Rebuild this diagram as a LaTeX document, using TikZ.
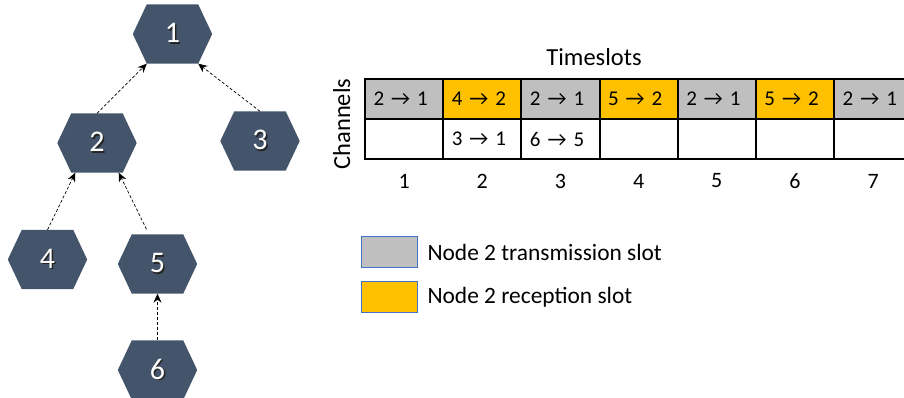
\documentclass[tikz,border=0pt]{standalone}
\usepackage{fontspec}
\setmainfont{Carlito}
\usetikzlibrary{arrows.meta,backgrounds}
\definecolor{hexfill}{HTML}{44546A}
\definecolor{txgray}{HTML}{BFBFBF}
\definecolor{rxorange}{HTML}{FFC000}
\definecolor{legedge}{HTML}{4472C4}
\newcommand{\hexlabel}[1]{\makebox[0pt][l]{\hspace{1.5pt}\raisebox{-1.5pt}{\color{black!85}#1}}{\color{white}#1}}
\tikzset{
  hexnode/.style={rectangle, minimum width=51pt, minimum height=59pt, inner sep=0pt, font=\fontsize{30}{30}\selectfont},
  arr/.style={densely dashed, line width=0.7pt, -{Stealth[length=9pt,width=8pt,inset=3pt]}},
  cell/.style={draw, line width=2pt, minimum width=78.17pt, minimum height=40pt, text width=61pt, inner xsep=8.5pt, align=left, font=\fontsize{21}{24}\selectfont},
  numlbl/.style={font=\fontsize{22}{24}\selectfont},
  title/.style={font=\fontsize{24.5}{28}\selectfont},
  legbox/.style={draw=legedge, line width=1pt, minimum width=56pt, minimum height=31pt, inner sep=0pt},
  legtext/.style={anchor=west, font=\fontsize{23.4}{26}\selectfont}
}
\begin{document}
\begin{tikzpicture}[x=1pt,y=-1pt]
\useasboundingbox (0,0) rectangle (904,398);
% tree nodes
\node[hexnode] (n1) at (172.5,34) {\hexlabel{1}};
\node[hexnode] (n2) at (97,143) {\hexlabel{2}};
\node[hexnode] (n3) at (260,141) {\hexlabel{3}};
\node[hexnode] (n4) at (47.5,259.5) {\hexlabel{4}};
\node[hexnode] (n5) at (157.5,264) {\hexlabel{5}};
\node[hexnode] (n6) at (157.5,370) {\hexlabel{6}};
\begin{scope}[on background layer]
\foreach \n in {n1,n2,n3,n4,n5,n6}
  \fill[hexfill] (\n.north west) -- (\n.north east) -- ([xshift=14pt]\n.east) -- (\n.south east) -- (\n.south west) -- ([xshift=-14pt]\n.west) -- cycle;
\end{scope}
% connectors
\draw[arr] (n2.north) -- (n1.south west);
\draw[arr] (n3.north) -- (n1.south east);
\draw[arr] (n4.north) -- ([xshift=4pt]n2.south west);
\draw[arr] ([xshift=-11pt,yshift=5pt]n5.north) -- ([xshift=-4pt]n2.south east);
\draw[arr] (n6.north) -- (n5.south);
% table
\foreach \i/\t/\c in {1/2 → 1/txgray, 2/4 → 2/rxorange, 3/2 → 1/txgray, 4/5 → 2/rxorange, 5/2 → 1/txgray, 6/5 → 2/rxorange, 7/2 → 1/txgray}
  \node[cell, fill=\c] (r1c\i) at ({365+78.17*(\i-0.5)},99) {\t};
\foreach \i/\t in {1/, 2/3 → 1, 3/6 → 5, 4/, 5/, 6/, 7/}
  \node[cell, fill=white] (r2c\i) at ({365+78.17*(\i-0.5)},139) {\t};
\foreach \i in {1,...,7}
  \node[numlbl] (s\i) at ({365+78.17*(\i-0.5)},181) {\i};
\node[title, anchor=base] (ts) at (594,66) {Timeslots};
\node[title, rotate=90, anchor=base] (ch) at (350,124) {Channels};
% legend
\node[legbox, fill=txgray] (lg1) at (389,251.5) {};
\node[legtext] (lt1) at (424,252) {Node 2 transmission slot};
\node[legbox, fill=rxorange] (lg2) at (389,296.5) {};
\node[legtext] (lt2) at (424,297) {Node 2 reception slot};
\end{tikzpicture}
\end{document}
